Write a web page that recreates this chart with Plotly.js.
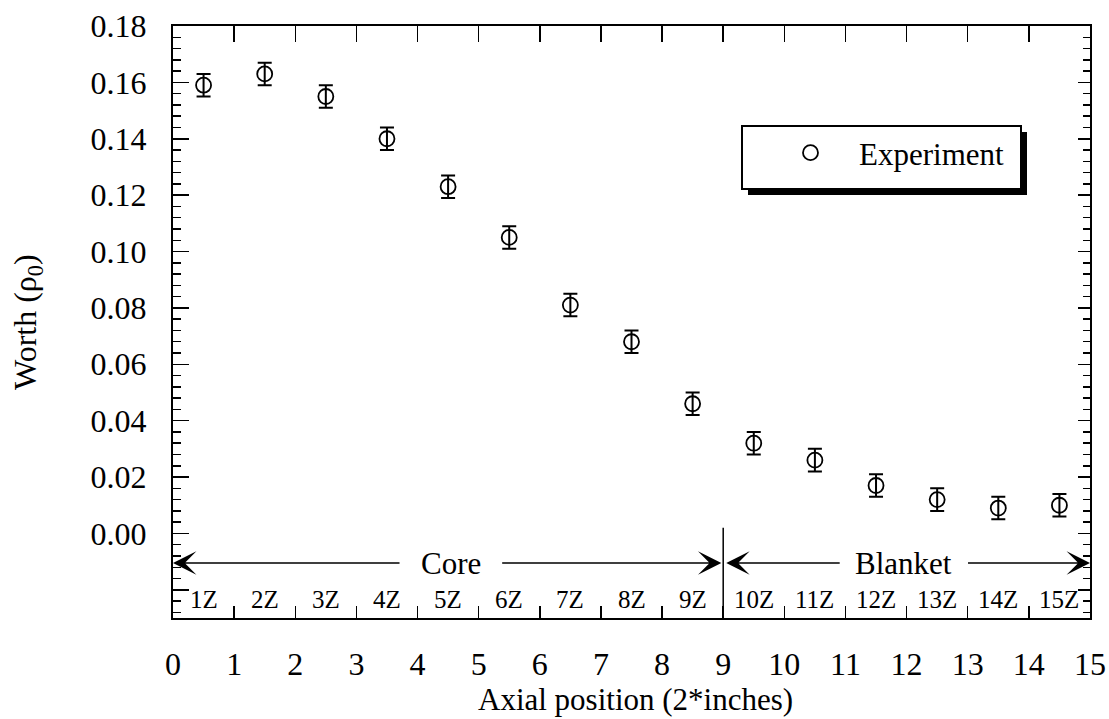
<!DOCTYPE html>
<html>
<head>
<meta charset="utf-8">
<script src="https://cdn.plot.ly/plotly-3.0.1.min.js"></script>
<style>html,body{margin:0;padding:0;background:#fff;}#chart{width:1109px;height:719px;}</style>
</head>
<body>
<div id="chart"></div>
<script>
// ---- data ----
var positions = [0.5, 1.5, 2.5, 3.5, 4.5, 5.5, 6.5, 7.5, 8.5, 9.5, 10.5, 11.5, 12.5, 13.5, 14.5];
var worth     = [0.159, 0.163, 0.155, 0.140, 0.123, 0.105, 0.081, 0.068, 0.046, 0.032, 0.026, 0.017, 0.012, 0.009, 0.010];
var worthErr  = [0.004, 0.004, 0.004, 0.004, 0.004, 0.004, 0.004, 0.004, 0.004, 0.004, 0.004, 0.004, 0.004, 0.004, 0.004];
var zoneLabels = ['1Z','2Z','3Z','4Z','5Z','6Z','7Z','8Z','9Z','10Z','11Z','12Z','13Z','14Z','15Z'];
var xTickVals = [0,1,2,3,4,5,6,7,8,9,10,11,12,13,14,15];
var xTickText = ['0','1','2','3','4','5','6','7','8','9','10','11','12','13','14','15'];
var yTickVals = [-0.02, 0, 0.02, 0.04, 0.06, 0.08, 0.10, 0.12, 0.14, 0.16, 0.18];
var yTickText = ['', '0.00', '0.02', '0.04', '0.06', '0.08', '0.10', '0.12', '0.14', '0.16', '0.18'];
var regionNames = ['Core', 'Blanket'];
var regionStart = [0, 9];
var regionEnd = [9, 15];

var FONT = 'Liberation Serif, Times New Roman, serif';
var L = 173, R = 1090, T = 26, B = 618;
function px(xp){ return (xp - L) / (R - L); }
function py(yp){ return (B - yp) / (B - T); }

var traces = [
  {
    x: positions, y: worth, type: 'scatter', mode: 'markers', name: 'Experiment',
    marker: {symbol: 'circle-open', size: 15, color: '#000', line: {width: 1.8, color: '#000'}},
    error_y: {type: 'data', array: worthErr, visible: true, color: '#000', thickness: 2, width: 7},
    hoverinfo: 'x+y'
  },
  {
    x: positions, y: worth, type: 'scatter', mode: 'markers', xaxis: 'x2', yaxis: 'y2',
    marker: {opacity: 0}, showlegend: false, hoverinfo: 'skip'
  }
];

var arrowY = -0.0105;
var annotations = [];
// zone labels
for (var i = 0; i < zoneLabels.length; i++) {
  annotations.push({x: positions[i], y: -0.0236, xref: 'x', yref: 'y', text: zoneLabels[i],
    showarrow: false, font: {family: FONT, size: 25, color: '#000'}});
}
// region labels
var regionTextX = [4.55, 11.95];
var regionGapL = [3.73, 10.93];
var regionGapR = [5.36, 12.98];
for (var r = 0; r < regionNames.length; r++) {
  annotations.push({x: regionTextX[r], y: arrowY, xref: 'x', yref: 'y', text: regionNames[r],
    showarrow: false, font: {family: FONT, size: 31, color: '#000'}});
  var tipL = regionStart[r] + (r === 1 ? 0.05 : 0);
  var tipR = regionEnd[r] - (r === 0 ? 0.03 : 0);
  annotations.push({x: tipL, y: arrowY, ax: regionGapL[r], ay: arrowY, xref: 'x', yref: 'y',
    axref: 'x', ayref: 'y', text: '', showarrow: true, arrowhead: 3, arrowsize: 2.6, arrowwidth: 1.5, arrowcolor: '#000'});
  annotations.push({x: tipR, y: arrowY, ax: regionGapR[r], ay: arrowY, xref: 'x', yref: 'y',
    axref: 'x', ayref: 'y', text: '', showarrow: true, arrowhead: 3, arrowsize: 2.6, arrowwidth: 1.5, arrowcolor: '#000'});
}
// axis titles
annotations.push({xref: 'paper', yref: 'paper', x: px(635), y: py(699), text: 'Axial position (2*inches)',
  showarrow: false, xanchor: 'center', yanchor: 'middle', font: {family: FONT, size: 31, color: '#000'}});
annotations.push({xref: 'paper', yref: 'paper', x: px(27), y: 0.5, text: 'Worth (ρ<sub>0</sub>)', textangle: -90,
  showarrow: false, xanchor: 'center', yanchor: 'middle', font: {family: FONT, size: 32, color: '#000'}});

var shapes = [
  {type: 'line', xref: 'x', yref: 'y', x0: 9, x1: 9, y0: 0.002, y1: -0.03, line: {color: '#000', width: 1.5}},
  {type: 'rect', xref: 'paper', yref: 'paper', x0: px(748), x1: px(1027), y0: py(195), y1: py(132),
    fillcolor: '#000', line: {width: 0}, layer: 'above'},
  {type: 'rect', xref: 'paper', yref: 'paper', x0: px(742), x1: px(1021), y0: py(189), y1: py(126),
    fillcolor: '#fff', line: {width: 2, color: '#000'}, layer: 'above'}
];

var axisCommon = {
  range: [0, 15], tickmode: 'array', tickvals: xTickVals, showline: true, linecolor: '#000', linewidth: 2,
  ticks: 'inside', tickcolor: '#000', tickwidth: 1.5, zeroline: false, showgrid: false, fixedrange: true
};

var layout = {
  width: 1109, height: 719,
  margin: {l: L, r: 1109 - R, t: T, b: 719 - B},
  paper_bgcolor: '#fff', plot_bgcolor: '#fff',
  font: {family: FONT, color: '#000'},
  showlegend: true,
  legend: {x: px(762), y: py(153), xanchor: 'left', yanchor: 'middle', bgcolor: 'rgba(0,0,0,0)', borderwidth: 0,
    font: {family: FONT, size: 31, color: '#000'}, itemwidth: 87},
  xaxis: Object.assign({}, axisCommon, {ticktext: xTickText, ticklen: 12, side: 'bottom',
    tickfont: {family: FONT, size: 32, color: '#000'}, ticklabelstandoff: 17}),
  xaxis2: Object.assign({}, axisCommon, {overlaying: 'x', side: 'top', anchor: 'y2', ticklen: 16, showticklabels: false}),
  yaxis: {range: [-0.03, 0.18], tickmode: 'array', tickvals: yTickVals, ticktext: yTickText,
    showline: true, linecolor: '#000', linewidth: 2, ticks: 'inside', ticklen: 16, tickwidth: 1.5, tickcolor: '#000',
    minor: {ticks: 'inside', dtick: 0.004, tick0: 0, ticklen: 8, tickwidth: 1.5, tickcolor: '#000', showgrid: false},
    tickfont: {family: FONT, size: 32, color: '#000'}, ticklabelstandoff: 18,
    zeroline: false, showgrid: false, fixedrange: true},
  yaxis2: {range: [-0.03, 0.18], overlaying: 'y', side: 'right', anchor: 'x2', tickmode: 'array', tickvals: yTickVals,
    showticklabels: false, showline: true, linecolor: '#000', linewidth: 2, ticks: 'inside', ticklen: 12, tickwidth: 1.5,
    tickcolor: '#000',
    minor: {ticks: 'inside', dtick: 0.004, tick0: 0, ticklen: 7, tickwidth: 1.5, tickcolor: '#000', showgrid: false},
    zeroline: false, showgrid: false, fixedrange: true},
  annotations: annotations,
  shapes: shapes
};

Plotly.newPlot('chart', traces, layout, {displayModeBar: false, staticPlot: true});
</script>
</body>
</html>
